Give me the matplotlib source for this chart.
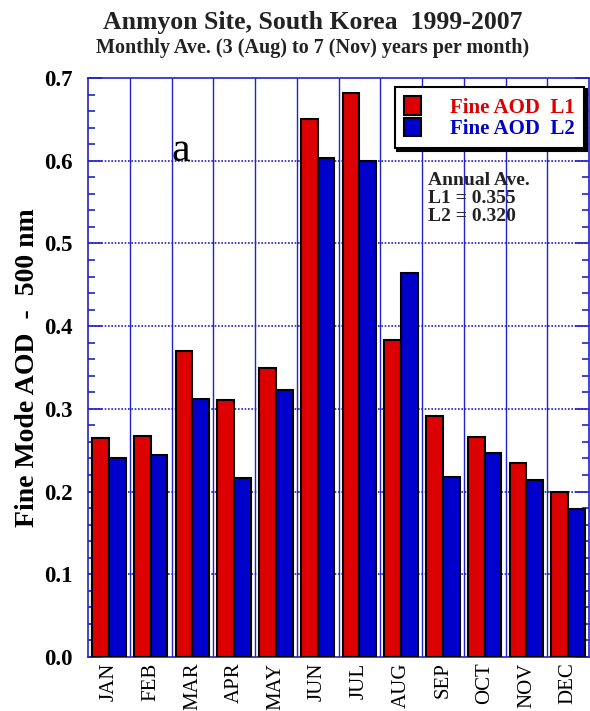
import matplotlib
matplotlib.use("Agg")
import matplotlib.pyplot as plt
import numpy as np
from matplotlib.ticker import MultipleLocator

plt.rcParams['font.family'] = ['Liberation Serif', 'DejaVu Serif']

months = ['JAN', 'FEB', 'MAR', 'APR', 'MAY', 'JUN', 'JUL', 'AUG', 'SEP', 'OCT', 'NOV', 'DEC']
fine_l1 = [0.265, 0.267, 0.370, 0.311, 0.349, 0.651, 0.682, 0.383, 0.291, 0.266, 0.235, 0.200]
fine_l2 = [0.240, 0.244, 0.312, 0.216, 0.323, 0.603, 0.600, 0.464, 0.218, 0.247, 0.214, 0.179]
annual_l1 = 0.355
annual_l2 = 0.320

grid_blue = '#2222cc'
x = np.arange(len(months))

fig = plt.figure(figsize=(5.9, 7.11), dpi=100)
ax = fig.add_axes([88 / 590, 54 / 711, 501 / 590, 579 / 711])

ax.bar(x - 0.4, fine_l1, width=0.4, align='edge', color='#dd0000', edgecolor='black',
       linewidth=1.5, label='Fine AOD  L1', zorder=3)
ax.bar(x, fine_l2, width=0.4, align='edge', color='#0000cc', edgecolor='black',
       linewidth=1.5, label='Fine AOD  L2', zorder=3)

# month separators and dotted value grid
for xv in x[:-1] + 0.5:
    ax.axvline(xv, color=grid_blue, lw=1.0, zorder=1)
for yv in np.arange(0.1, 0.65, 0.1):
    ax.axhline(yv, color=grid_blue, lw=1.2, ls=(0, (1, 1)), zorder=1)

ax.set_xlim(-0.5, 11.5)
ax.set_ylim(0, 0.7)
ax.set_xticks(x)
ax.set_xticklabels(months, rotation=90, fontsize=15)
ax.tick_params(axis='x', length=0, pad=4)
ax.yaxis.set_major_locator(MultipleLocator(0.1))
ax.yaxis.set_minor_locator(MultipleLocator(0.02))
ax.yaxis.set_major_formatter(matplotlib.ticker.FormatStrFormatter('%.1f'))
ax.tick_params(axis='y', which='both', direction='in', left=True, right=True,
               color=grid_blue, labelsize=16.5, pad=11)
ax.tick_params(axis='y', which='major', length=10, width=1.2)
ax.tick_params(axis='y', which='minor', length=5, width=1.2)
for lab in ax.get_yticklabels():
    lab.set_fontweight('bold')
for sp in ax.spines.values():
    sp.set_color(grid_blue)
    sp.set_linewidth(1.2)

ax.set_ylabel('Fine Mode AOD  -  500 nm', fontsize=20, fontweight='bold', labelpad=3)

leg = ax.legend(loc='upper right', bbox_to_anchor=(0.99, 0.985), fancybox=False,
                shadow={'color': 'black', 'alpha': 1}, edgecolor='black', framealpha=1,
                handlelength=0.8, handleheight=1.0, handletextpad=1.4, borderpad=0.45,
                labelspacing=0.0, borderaxespad=0, prop={'weight': 'bold', 'size': 15})
leg.get_frame().set_linewidth(1.5)
for txt, col in zip(leg.get_texts(), ['#dd0000', '#0000cc']):
    txt.set_color(col)

ax.text(0.678, 0.838, 'Annual Ave.\nL1 = %.3f\nL2 = %.3f' % (annual_l1, annual_l2),
        transform=ax.transAxes, ha='left', va='top', fontsize=14, fontweight='bold',
        color='#222222', linespacing=1.1)
ax.text(1.72, 0.612, 'a', fontsize=30, ha='center', va='center', zorder=4)

fig.text(0.53, 0.968, 'Anmyon Site, South Korea  1999-2007', ha='center', va='center',
         fontsize=18.5, fontweight='bold', color='#222222')
fig.text(0.53, 0.932, 'Monthly Ave. (3 (Aug) to 7 (Nov) years per month)', ha='center',
         va='center', fontsize=14.5, fontweight='bold', color='#222222')

fig.savefig('out.png', dpi=100)
